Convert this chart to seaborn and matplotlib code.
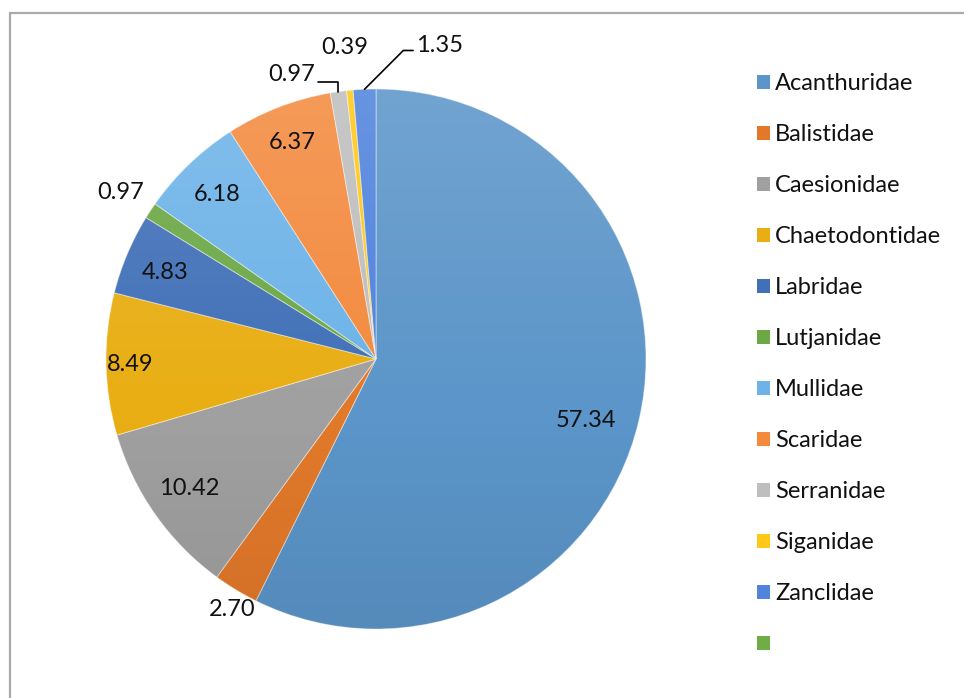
import matplotlib
matplotlib.use("Agg")
import matplotlib.pyplot as plt
import seaborn as sns
import numpy as np
from matplotlib.patches import Patch, Circle
from matplotlib.lines import Line2D

# ---------------- data ----------------
families = ["Acanthuridae", "Balistidae", "Caesionidae", "Chaetodontidae",
            "Labridae", "Lutjanidae", "Mullidae", "Scaridae", "Serranidae",
            "Siganidae", "Zanclidae"]
percent = [57.34, 2.70, 10.42, 8.49, 4.83, 0.97, 6.18, 6.37, 0.97, 0.39, 1.35]
extra_legend_label = ""          # 12th (unnamed) legend entry

# ---------------- style ----------------
slice_colors = ["#5B95C9", "#E2792A", "#A0A0A0", "#E9AE14", "#4170B8",
                "#6CA846", "#6DB3E8", "#F38A3E", "#BEBEBE", "#FFC818",
                "#4F83DC"]
extra_legend_color = "#70AD47"

# label placement: ("in"/"out", radius, angle shift) or ("off"/"lead", dx, dy, ...)
label_place = [
    ("in", 0.81, -3.0),
    ("out", 1.07, 1.5),
    ("in", 0.84, -0.4),
    ("in", 0.91, 0.3),
    ("in", 0.845, 0.7),
    ("out", 1.13, 0.3),
    ("in", 0.846, 0.3),
    ("in", 0.862, 0.0),
    ("lead", -0.173, 0.065, "angle,angleA=0,angleB=90,rad=0", (1.0, 0.1)),
    ("off", -0.019, 0.158),
    ("lead", 0.279, 0.163, "angle,angleA=0,angleB=45,rad=0", (0.0, 0.25)),
]

sns.set_theme(style="white")
plt.rcParams["font.family"] = ["Lato", "DejaVu Sans"]
FS = 17
TXT = "#111111"

fig = plt.figure(figsize=(9.64, 6.98), dpi=100)
W, H = 964, 698
ax = fig.add_axes([106 / W, 69 / H, 540 / W, 540 / H])

wedges, _ = ax.pie(percent, colors=slice_colors, startangle=90,
                   counterclock=False, radius=1,
                   wedgeprops=dict(edgecolor=(1, 1, 1, 0.45), linewidth=0.7))

# gentle vertical shading like the spreadsheet pie
n = 256
grad = np.zeros((n, 1, 4))
t = np.linspace(0, 1, n)  # 0 top -> 1 bottom
white_a = np.clip(0.14 * (1 - t / 0.6), 0, None)
black_a = np.clip(0.07 * (t - 0.6) / 0.4, 0, None)
grad[:, 0, :3] = np.where((white_a > 0)[:, None], 1.0, 0.0)
grad[:, 0, 3] = white_a + black_a
im = ax.imshow(grad, extent=(-1, 1, -1, 1), origin="upper", aspect="auto",
               zorder=3, interpolation="bilinear")
im.set_clip_path(Circle((0, 0), 1, transform=ax.transData))

for w, v, place in zip(wedges, percent, label_place):
    mid = np.deg2rad((w.theta1 + w.theta2) / 2)
    txt = f"{v:.2f}"
    if place[0] in ("in", "out"):
        a = mid + np.deg2rad(place[2])
        r = place[1]
        ax.text(r * np.cos(a), r * np.sin(a), txt, ha="center", va="center",
                fontsize=FS, color=TXT, zorder=5)
    else:
        ex, ey = np.cos(mid), np.sin(mid)
        tx, ty = ex + place[1], ey + place[2]
        if place[0] == "off":
            ax.text(tx, ty, txt, ha="center", va="center", fontsize=FS,
                    color=TXT, zorder=5)
        else:
            ax.annotate(txt, xy=(ex, ey), xytext=(tx, ty), ha="center",
                        va="center", fontsize=FS, color=TXT, zorder=5,
                        arrowprops=dict(arrowstyle="-", color="black", lw=1.2,
                                        connectionstyle=place[3],
                                        relpos=place[4],
                                        shrinkA=0, shrinkB=0))

ax.set_xlim(-1, 1)
ax.set_ylim(-1, 1)
ax.set_aspect("equal")
ax.axis("off")

handles = [Patch(facecolor=c, edgecolor="none") for c in slice_colors]
handles.append(Patch(facecolor=extra_legend_color, edgecolor="none"))
labels = families + [extra_legend_label]
fig.legend(handles, labels, loc="upper left",
           bbox_to_anchor=(757 / W, 1 - 73.5 / H), frameon=False,
           fontsize=FS, handlelength=0.55, handleheight=0.55,
           handletextpad=0.22, labelspacing=1.27, borderpad=0,
           borderaxespad=0, labelcolor=TXT)

# chart frame (top and left edges visible)
fig.add_artist(Line2D([10 / W, 1.0], [1 - 13 / H, 1 - 13 / H],
                      transform=fig.transFigure, color="#aaaaaa", lw=1.6))
fig.add_artist(Line2D([10 / W, 10 / W], [0, 1 - 13 / H],
                      transform=fig.transFigure, color="#aaaaaa", lw=1.6))

fig.savefig("out.png", dpi=100, facecolor="white")
